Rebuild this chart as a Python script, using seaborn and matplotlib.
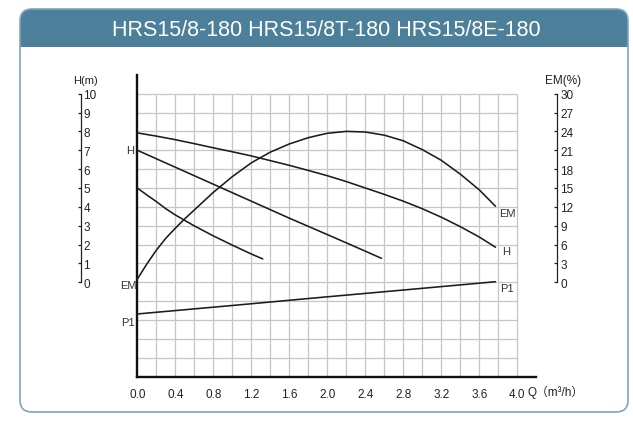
import numpy as np
import pandas as pd
import matplotlib
matplotlib.use("Agg")
import matplotlib.pyplot as plt
from matplotlib import font_manager
from matplotlib.patches import FancyBboxPatch, Rectangle
import seaborn as sns

# ---- data ----
title = "HRS15/8-180 HRS15/8T-180 HRS15/8E-180"

# head curves H (m) against flow Q (m3/h)
q_h1 = [0.0, 0.2, 0.4, 0.6, 0.8, 1.0, 1.2, 1.4, 1.6, 1.8, 2.0, 2.2, 2.4,
        2.6, 2.8, 3.0, 3.2, 3.4, 3.6, 3.77]
h1 = [7.92, 7.75, 7.56, 7.35, 7.13, 6.92, 6.7, 6.45, 6.2, 5.93, 5.65, 5.34, 5.0,
      4.66, 4.3, 3.9, 3.45, 2.95, 2.4, 1.86]
q_h2 = [0.0, 0.4, 0.8, 1.2, 1.6, 2.0, 2.4, 2.57]
h2 = [7.0, 6.1, 5.2, 4.3, 3.4, 2.53, 1.65, 1.27]
q_h3 = [0.0, 0.1, 0.2, 0.3, 0.4, 0.6, 0.8, 1.0, 1.2, 1.32]
h3 = [5.0, 4.63, 4.28, 3.9, 3.57, 2.99, 2.46, 1.97, 1.5, 1.24]

# efficiency EM (%)
q_em = [0.0, 0.1, 0.2, 0.3, 0.4, 0.5, 0.6, 0.8, 1.0, 1.2, 1.4, 1.6, 1.8, 2.0,
        2.2, 2.4, 2.6, 2.8, 3.0, 3.2, 3.4, 3.6, 3.77]
em = [0.5, 2.9, 5.1, 7.0, 8.6, 10.1, 11.5, 14.3, 16.8, 19.0, 20.7, 22.0, 23.0, 23.7,
      24.0, 23.9, 23.4, 22.5, 21.1, 19.4, 17.2, 14.7, 12.1]

# input power P1 (no scale given, in grid units)
q_p1 = [0.0, 1.0, 2.0, 3.0, 3.77]
p1 = [-1.68, -1.23, -0.77, -0.32, 0.03]

x_ticks = [0.0, 0.4, 0.8, 1.2, 1.6, 2.0, 2.4, 2.8, 3.2, 3.6, 4.0]
h_ticks = list(range(0, 11))
em_ticks = list(range(0, 31, 3))

# ---- figure ----
W, H = 633, 427
sns.set_style("white")
plt.rcParams["font.family"] = ["Liberation Sans", "Noto Sans CJK SC", "DejaVu Sans"]
fig = plt.figure(figsize=(W / 100, H / 100), dpi=100)

# background frame in pixel coords
bg = fig.add_axes([0, 0, 1, 1])
bg.set_xlim(0, W)
bg.set_ylim(H, 0)
bg.axis("off")
bar_col = "#4b7f9a"
bg.add_patch(FancyBboxPatch((20, 10), 608, 38, boxstyle="round,pad=0,rounding_size=12",
                            fc=bar_col, ec="none"))
bg.add_patch(Rectangle((20, 30), 608, 18, fc=bar_col, ec="none"))
bg.add_patch(FancyBboxPatch((20, 10), 608, 403, boxstyle="round,pad=0,rounding_size=12",
                            fc="none", ec="#7ea6bd", lw=1.2))

# narrow face for the title if there is one
names = {f.name for f in font_manager.fontManager.ttflist}
if "Liberation Sans Narrow" in names:
    bg.text(326, 30, title, color="white", fontsize=18, ha="center", va="center",
            family="Liberation Sans Narrow")
else:
    bg.text(326, 30, title, color="white", fontsize=15.5, ha="center", va="center")

# main plot
y_top, y_bot = 75.8, 377.6
x_l, x_r = 137.3, 536.3
ax = fig.add_axes([x_l / W, 1 - y_bot / H, (x_r - x_l) / W, (y_bot - y_top) / H])
ax.set_facecolor("none")
ax.set_xlim(0, 4.2)
ax.set_ylim(-5, 11)

grid_col = "#c6c6c6"
ax.vlines(np.arange(0.2, 4.01, 0.2), -5, 10, color=grid_col, lw=0.9, zorder=1)
ax.hlines(np.arange(-4, 10.01, 1), 0, 4.0, color=grid_col, lw=0.9, zorder=1)

line_kw = dict(color="#1c1c1c", lw=1.15, zorder=3)
for qq, hh in [(q_h1, h1), (q_h2, h2), (q_h3, h3)]:
    sns.lineplot(x=qq, y=hh, ax=ax, **line_kw)
sns.lineplot(x=q_p1, y=p1, ax=ax, **line_kw)

ax_em = ax.twinx()
ax_em.set_ylim(-15, 33)
sns.lineplot(x=q_em, y=em, ax=ax_em, **line_kw)
ax_em.axis("off")

for side in ["top", "right"]:
    ax.spines[side].set_visible(False)
for side in ["left", "bottom"]:
    ax.spines[side].set_linewidth(1.7)
    ax.spines[side].set_color("#111111")
ax.set_yticks([])
ax.set_xticks(x_ticks)
ax.set_xticklabels([f"{v:.1f}" for v in x_ticks])
ax.tick_params(axis="x", length=0, pad=8, labelsize=8.5, labelcolor="#222222")
ax.set_xlabel("")
ax.set_ylabel("")

# curve labels
lab_kw = dict(fontsize=8, color="#333333")
ax.text(-0.03, 7.0, "H", ha="right", va="center", **lab_kw)
ax.text(-0.01, -0.15, "EM", ha="right", va="center", **lab_kw)
ax.text(-0.03, -2.1, "P1", ha="right", va="center", **lab_kw)
ax.text(3.81, 3.68, "EM", ha="left", va="center", **lab_kw)
ax.text(3.84, 1.68, "H", ha="left", va="center", **lab_kw)
ax.text(3.82, -0.3, "P1", ha="left", va="center", **lab_kw)

# side scales
y0, y10 = 283.3, 94.7


def side_scale(x_px, top, ticks):
    s = fig.add_axes([(x_px - 10) / W, 1 - y0 / H, 10 / W, (y0 - y10) / H])
    s.set_facecolor("none")
    s.set_ylim(0, top)
    s.set_xticks([])
    for side in ["left", "top", "bottom"]:
        s.spines[side].set_visible(False)
    s.spines["right"].set_linewidth(0.9)
    s.spines["right"].set_color("#222222")
    s.yaxis.tick_right()
    s.set_yticks(ticks)
    s.tick_params(axis="y", direction="in", length=2.5, width=0.9, pad=2,
                  labelsize=8.5, labelcolor="#222222", color="#222222")
    return s


side_scale(80.7, 10, h_ticks)
side_scale(557.3, 30, em_ticks)

bg.text(86, 81, "H(m)", ha="center", va="center", fontsize=8, color="#222222")
bg.text(563, 81, "EM(%)", ha="center", va="center", fontsize=8.5, color="#222222")
bg.text(527, 392, "Q（m³/h）", ha="left", va="center", fontsize=8.5, color="#222222")

fig.savefig("out.png", dpi=100)
